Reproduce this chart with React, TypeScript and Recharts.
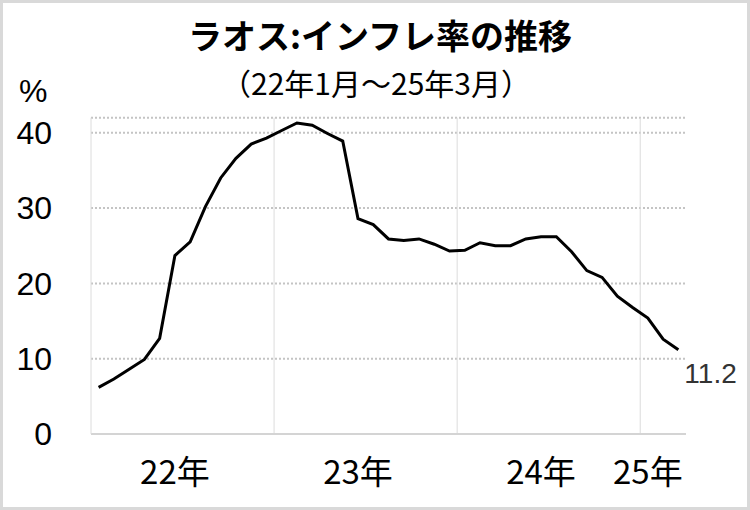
import { LineChart, Line, XAxis, YAxis, CartesianGrid, ReferenceLine, LabelList } from 'recharts';

// monthly, Jan 2022 - Mar 2025
const MONTHS = [
  '22/1', '22/2', '22/3', '22/4', '22/5', '22/6', '22/7', '22/8', '22/9', '22/10', '22/11', '22/12',
  '23/1', '23/2', '23/3', '23/4', '23/5', '23/6', '23/7', '23/8', '23/9', '23/10', '23/11', '23/12',
  '24/1', '24/2', '24/3', '24/4', '24/5', '24/6', '24/7', '24/8', '24/9', '24/10', '24/11', '24/12',
  '25/1', '25/2', '25/3',
];

const INFLATION = [
  6.2, 7.3, 8.6, 9.9, 12.7, 23.7, 25.5, 30.2, 34.0, 36.6, 38.5, 39.3,
  40.3, 41.3, 41.0, 39.9, 38.9, 28.6, 27.8, 25.9, 25.7, 25.9, 25.2, 24.3,
  24.4, 25.4, 25.0, 25.0, 25.9, 26.2, 26.2, 24.2, 21.7, 20.8, 18.3, 16.8,
  15.4, 12.6, 11.2,
];

const YEAR_TICKS = [5, 17, 29, 36];
const YEAR_LABELS = ['22年', '23年', '24年', '25年'];
const YEAR_BOUNDARIES = [11.5, 23.5, 35.5];
const Y_TICKS = [0, 10, 20, 30, 40];

const data = MONTHS.map((m, i) => ({ idx: i, month: m, rate: INFLATION[i] }));

const NUM_FONT = '"Liberation Sans", Arial, sans-serif';
const JP_FONT = '"Noto Sans CJK JP", sans-serif';

function LastLabel(props: any) {
  const { x, y, value, index } = props;
  if (index !== data.length - 1) return null;
  return (
    <text x={x + 6} y={y + 33} fill="#333" fontSize={28} fontFamily={NUM_FONT}>
      {value}
    </text>
  );
}

export default function App() {
  return (
    <div style={{ position: 'absolute', left: 0, top: 0, width: 750, height: 510, background: '#fff' }}>
      <LineChart
        width={750}
        height={510}
        data={data}
        margin={{ top: 117.7, right: 64, bottom: 0, left: 0 }}
      >
        <CartesianGrid vertical={false} stroke="#c4c4c4" strokeWidth={2} strokeDasharray="2 2" />
        {YEAR_BOUNDARIES.map((b) => (
          <ReferenceLine key={b} x={b} stroke="#dcdcdc" strokeWidth={1} />
        ))}
        <XAxis
          dataKey="idx"
          type="number"
          domain={[-0.5, 38.5]}
          ticks={YEAR_TICKS}
          interval={0}
          tickFormatter={(v: number) => YEAR_LABELS[YEAR_TICKS.indexOf(v)]}
          tickLine={false}
          axisLine={{ stroke: '#d4d4d4', strokeWidth: 2 }}
          tick={{ fill: '#000', fontSize: 33, fontFamily: JP_FONT }}
          tickMargin={21}
          height={76}
        />
        <YAxis
          domain={[0, 42]}
          ticks={Y_TICKS}
          width={91}
          tickLine={false}
          axisLine={{ stroke: '#dcdcdc' }}
          tick={{ fill: '#000', fontSize: 32, fontFamily: NUM_FONT }}
          tickMargin={33}
        />
        <Line
          type="linear"
          dataKey="rate"
          stroke="#000"
          strokeWidth={3}
          dot={false}
          isAnimationActive={false}
        >
          <LabelList dataKey="rate" content={LastLabel} />
        </Line>
      </LineChart>
      <svg
        width={750}
        height={510}
        style={{ position: 'absolute', left: 0, top: 0, pointerEvents: 'none' }}
      >
        <text x={380} y={49} textAnchor="middle" fontFamily={JP_FONT} fontWeight={700} fontSize={34} fill="#000">
          ラオス:インフレ率の推移
        </text>
        <text x={376} y={94.5} textAnchor="middle" fontFamily={JP_FONT} fontSize={30} fill="#000">
          （22年1月～25年3月）
        </text>
        <text x={19} y={102} fontFamily={NUM_FONT} fontSize={32} fill="#000">
          %
        </text>
        <rect x={1.5} y={1.5} width={747} height={507} fill="none" stroke="#d9d9d9" strokeWidth={3} />
      </svg>
    </div>
  );
}
